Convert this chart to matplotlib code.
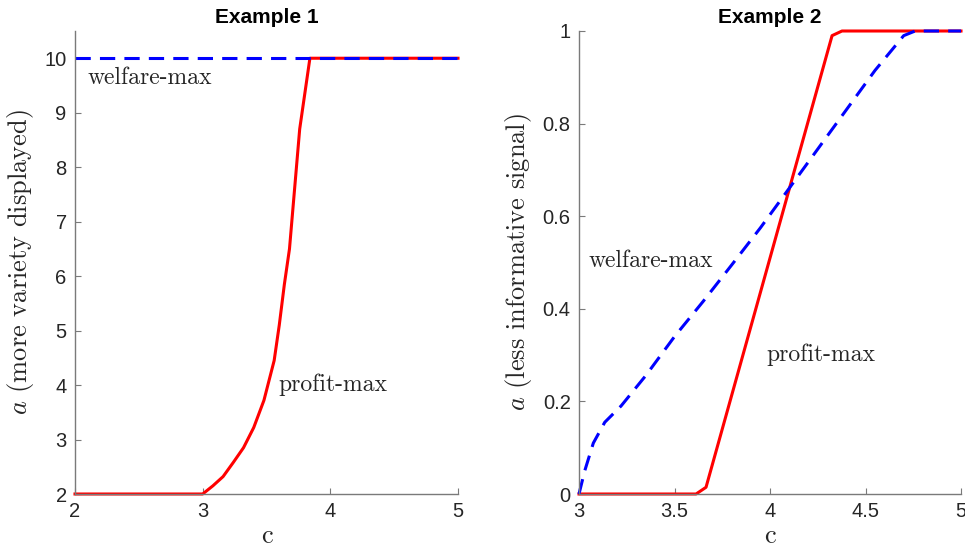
import matplotlib
matplotlib.use("Agg")
import matplotlib.pyplot as plt

plt.rcParams['mathtext.fontset'] = 'cm'
plt.rcParams['font.family'] = ['Liberation Sans', 'DejaVu Sans']
plt.rcParams['axes.unicode_minus'] = False

# Example 1 data
c1_profit = [2.0, 3.0, 3.08, 3.16, 3.24, 3.32, 3.40, 3.48, 3.56, 3.60, 3.64, 3.68, 3.76, 3.84, 5.0]
a1_profit = [2.0, 2.0, 2.15, 2.32, 2.58, 2.85, 3.22, 3.72, 4.45, 5.1, 5.85, 6.5, 8.7, 10.0, 10.0]
c1_welfare = [2.0, 5.0]
a1_welfare = [10.0, 10.0]
x1_ticks = [2, 3, 4, 5]
y1_ticks = [2, 3, 4, 5, 6, 7, 8, 9, 10]

# Example 2 data
c2_profit = [3.0, 3.613, 3.665, 4.325, 4.377, 5.0]
a2_profit = [0.0, 0.0, 0.0145, 0.99, 1.0, 1.0]
c2_welfare = [3.0, 3.03, 3.075, 3.135, 3.22, 3.35, 3.5, 3.65, 3.8, 3.95, 4.1, 4.25, 4.4, 4.55, 4.7, 4.76, 5.0]
a2_welfare = [0.0, 0.05, 0.11, 0.155, 0.19, 0.256, 0.34, 0.416, 0.495, 0.575, 0.66, 0.745, 0.83, 0.915, 0.99, 1.0, 1.0]
x2_ticks = [3, 3.5, 4, 4.5, 5]
x2_labels = ['3', '3.5', '4', '4.5', '5']
y2_ticks = [0, 0.2, 0.4, 0.6, 0.8, 1]
y2_labels = ['0', '0.2', '0.4', '0.6', '0.8', '1']

spine_col = '#7a7a7a'
txt_col = '#262626'
serif = 'cmr10'

fig = plt.figure(figsize=(9.65, 5.55), dpi=100)
ax1 = fig.add_axes([75/965, 61/555, 383/965, 463/555])
ax2 = fig.add_axes([579/965, 61/555, 382/965, 463/555])


def style(ax):
    for s in ['top', 'right']:
        ax.spines[s].set_visible(False)
    for s in ['left', 'bottom']:
        ax.spines[s].set_color(spine_col)
        ax.spines[s].set_linewidth(1.0)
    ax.tick_params(direction='in', length=4, width=0.8, color=spine_col,
                   labelcolor=txt_col, labelsize=14.5, pad=6)


ax1.plot(c1_profit, a1_profit, color='red', lw=2.2, clip_on=False)
ax1.plot(c1_welfare, a1_welfare, color='blue', lw=2.2, dashes=(5, 3), clip_on=False)
ax1.set_xlim(2, 5)
ax1.set_ylim(2, 10.5)
ax1.set_xticks(x1_ticks)
ax1.set_yticks(y1_ticks)
style(ax1)
ax1.set_title('Example 1', fontsize=15, fontweight='bold', pad=6)
ax1.set_xlabel('c', family=serif, fontsize=19, color=txt_col, labelpad=2)
ax1.set_ylabel(r'$a$ (more variety displayed)', family=serif, fontsize=19,
               color=txt_col, labelpad=6)
ax1.text(2.10, 9.63, 'welfare-max', family=serif, fontsize=17, color=txt_col, va='center')
ax1.text(3.59, 4.0, 'profit-max', family=serif, fontsize=17, color=txt_col, va='center')

ax2.plot(c2_profit, a2_profit, color='red', lw=2.2, clip_on=False)
ax2.plot(c2_welfare, a2_welfare, color='blue', lw=2.2, dashes=(5, 3), clip_on=False)
ax2.set_xlim(3, 5)
ax2.set_ylim(0, 1)
ax2.set_xticks(x2_ticks)
ax2.set_xticklabels(x2_labels)
ax2.set_yticks(y2_ticks)
ax2.set_yticklabels(y2_labels)
style(ax2)
ax2.set_title('Example 2', fontsize=15, fontweight='bold', pad=6)
ax2.set_xlabel('c', family=serif, fontsize=19, color=txt_col, labelpad=2)
ax2.set_ylabel(r'$a$ (less informative signal)', family=serif, fontsize=19,
               color=txt_col, labelpad=6)
ax2.text(3.05, 0.503, 'welfare-max', family=serif, fontsize=17, color=txt_col, va='center')
ax2.text(3.98, 0.30, 'profit-max', family=serif, fontsize=17, color=txt_col, va='center')

fig.savefig('out.png', dpi=100)
